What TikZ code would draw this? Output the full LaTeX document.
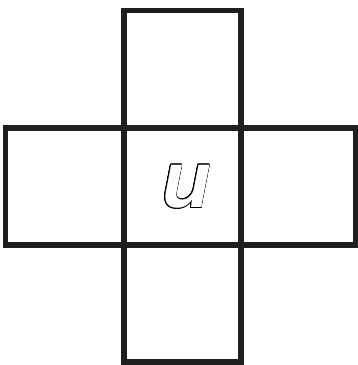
\documentclass[tikz,border=0pt]{standalone}
\usepackage{fontspec}
\usepackage{contour}
\newfontfamily\letterfont{Liberation Sans}
\contourlength{0.7pt}
\begin{document}
\begin{tikzpicture}[x=1pt,y=-1pt,
  cell/.style={draw=black!88,line width=5.8pt,inner sep=0pt,minimum height=117.2pt}]
\useasboundingbox (0,0) rectangle (358,365);
\node[cell,minimum width=117pt] (mid) at (182.2,186.2) {};
\node[cell,minimum width=117pt] (top) at (182.2,69) {};
\node[cell,minimum width=117pt] (bot) at (182.2,303.3) {};
\node[cell,minimum width=118.2pt] (left) at (64.6,186.2) {};
\node[cell,minimum width=114.8pt] (right) at (298.1,186.2) {};
\node[inner sep=0pt] (u) at (186.5,187) {\contour{black}{\color{white}\letterfont\bfseries\itshape\fontsize{80}{80}\selectfont u}};
\end{tikzpicture}
\end{document}
